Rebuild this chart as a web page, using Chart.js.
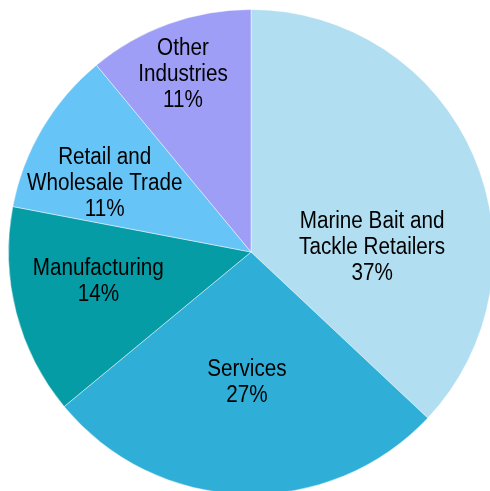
<!DOCTYPE html>
<html>
<head>
<meta charset="utf-8">
<script src="https://cdn.jsdelivr.net/npm/chart.js@4/dist/chart.umd.min.js"></script>
<style>
    html, body { margin: 0; padding: 0; background: #fff; overflow: hidden; }
    #wrap { position: absolute; left: 0; top: 0; width: 502px; height: 504px; }
</style>
</head>
<body>
<div id="wrap"><canvas id="industry"></canvas></div>
<script>
var categories = [
    ['Marine Bait and', 'Tackle Retailers'],
    ['Services'],
    ['Manufacturing'],
    ['Retail and', 'Wholesale Trade'],
    ['Other', 'Industries']
];
var shares = [37, 27, 14, 11, 11];
var sliceColors = ['#b1def0', '#2fafd8', '#059ca6', '#67c4f6', '#9e9ef7'];

// where each label sits: fraction of radius, shift from the bisector (deg)
var labelPlace = [
    [0.50, 20.4],
    [0.53, 0],
    [0.64, 4],
    [0.67, -4.8],
    [0.79, -1]
];

const sliceLabels = {
    id: 'sliceLabels',
    afterDatasetsDraw: function (chart) {
        const ctx = chart.ctx;
        const meta = chart.getDatasetMeta(0);
        const size = 23.5;
        const squeeze = 0.88;   // narrow face
        const lh = 26;
        ctx.save();
        ctx.font = size + 'px "Liberation Sans", Arial, sans-serif';
        ctx.fillStyle = '#000';
        ctx.textAlign = 'center';
        ctx.textBaseline = 'alphabetic';
        meta.data.forEach(function (arc, i) {
            const p = arc.getProps(['x', 'y', 'startAngle', 'endAngle', 'outerRadius'], true);
            const mid = (p.startAngle + p.endAngle) / 2 + labelPlace[i][1] * Math.PI / 180;
            const r = p.outerRadius * labelPlace[i][0];
            const cx = p.x + Math.cos(mid) * r;
            const cy = p.y + Math.sin(mid) * r;
            const lines = categories[i].concat([shares[i] + '%']);
            const first = cy - (lines.length - 1) * lh / 2 + size * 0.716 / 2;
            lines.forEach(function (t, k) {
                ctx.save();
                ctx.translate(cx, first + k * lh);
                ctx.scale(squeeze, 1);
                ctx.fillText(t, 0, 0);
                ctx.restore();
            });
        });
        ctx.restore();
    }
};

new Chart(document.getElementById('industry'), {
    type: 'pie',
    data: {
        labels: categories,
        datasets: [{
            data: shares,
            backgroundColor: sliceColors,
            borderColor: 'rgba(255,255,255,0.45)',
            borderWidth: 1
        }]
    },
    options: {
        responsive: true,
        maintainAspectRatio: false,
        animation: false,
        layout: { padding: { left: 8, top: 9, right: 8, bottom: 9 } },
        plugins: {
            legend: { display: false },
            tooltip: { enabled: false }
        }
    },
    plugins: [sliceLabels]
});
</script>
</body>
</html>
